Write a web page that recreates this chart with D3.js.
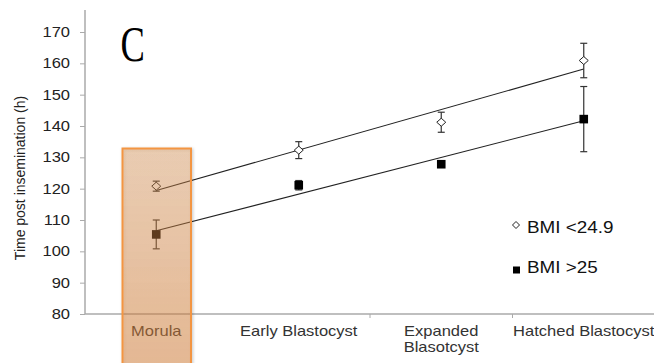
<!DOCTYPE html>
<meta charset="utf-8">
<style>
  body { margin: 0; background: #fff; }
  text { font-family: "Liberation Sans", Arial, sans-serif; }
</style>
<body>
<script src="https://cdn.jsdelivr.net/npm/d3@7/dist/d3.min.js"></script>
<script>

    var width = 654,
        height = 363;

    // stages on the x axis
    var stages = ["Morula", "Early Blastocyst", "Expanded Blasotcyst", "Hatched Blastocyst"];
    var stageLines = [["Morula"], ["Early Blastocyst"], ["Expanded", "Blasotcyst"], ["Hatched Blastocyst"]];

    // BMI <24.9 (open diamonds)
    var leanMean = [120.8, 132.3, 141.2, 160.9];
    var leanErr  = [1.6, 2.7, 3.2, 5.5];

    // BMI >25 (filled squares)
    var obeseMean = [105.4, 121.1, 127.8, 142.2];
    var obeseErr  = [4.6, 1.5, 0, 10.4];

    var yTicks = [80, 90, 100, 110, 120, 130, 140, 150, 160, 170];

    // text in the original is a bit wide, stretch it sideways
    var sx = 1.18;

    var svg = d3.select("body").append("svg")
            .attr("width", width)
            .attr("height", height);

    var x = d3.scaleBand().domain(stages).range([85, 655]);
    var y = d3.scaleLinear().domain([80, 170]).range([314, 32]);

    function cx(i) { return x(stages[i]) + x.bandwidth() / 2; }

    // y axis
    var yAxis = svg.append("g")
            .attr("transform", "translate(85,0)")
            .call(d3.axisLeft(y).tickValues(yTicks).tickSize(5).tickPadding(10));
    yAxis.select(".domain").remove();
    yAxis.selectAll(".tick line").attr("stroke", "#aaa");
    yAxis.selectAll(".tick text")
            .attr("x", -15 / sx)
            .attr("transform", "scale(" + sx + ",1)")
            .attr("font-size", 14)
            .attr("fill", "#222")
            .style("font-family", "Liberation Sans, Arial, sans-serif");
    svg.append("line")
            .attr("x1", 85).attr("x2", 85)
            .attr("y1", 10).attr("y2", y(80))
            .attr("stroke", "#aaa").attr("stroke-width", 1.5);

    // x axis
    svg.append("line")
            .attr("x1", 85).attr("x2", 654)
            .attr("y1", y(80)).attr("y2", y(80))
            .attr("stroke", "#aaa").attr("stroke-width", 1.5);
    svg.selectAll(".xtick")
            .data(stages.slice(1))
            .enter().append("line")
            .attr("x1", function(d) { return x(d) + x.bandwidth(); })
            .attr("x2", function(d) { return x(d) + x.bandwidth(); })
            .attr("y1", y(80)).attr("y2", y(80) + 4)
            .attr("stroke", "#aaa");

    var xl = svg.selectAll(".xlabel")
            .data(stageLines)
            .enter().append("text")
            .attr("transform", function(d, i) { return "translate(" + cx(i) + ",0) scale(" + sx + ",1)"; })
            .attr("text-anchor", "middle")
            .attr("font-size", 14)
            .attr("fill", "#333");
    xl.selectAll("tspan")
            .data(function(d) { return d; })
            .enter().append("tspan")
            .attr("x", 0)
            .attr("y", function(d, j) { return 336.5 + j * 16; })
            .text(function(d) { return d; });

    // y label
    svg.append("text")
            .attr("transform", "translate(25,178) rotate(-90) scale(1,1.1)")
            .attr("text-anchor", "middle")
            .attr("font-size", 14)
            .attr("fill", "#222")
            .text("Time post insemination (h)");

    // panel letter
    svg.append("text")
            .attr("transform", "translate(120.5,60.7) scale(0.73,1)")
            .style("font-family", "Liberation Serif, serif")
            .attr("font-size", 50)
            .attr("fill", "#000")
            .text("C");

    // least squares trend line across the stages
    function trend(vals) {
        var n = vals.length, xs = d3.range(1, n + 1);
        var mx = d3.mean(xs), my = d3.mean(vals);
        var b = d3.sum(xs, function(v, i) { return (v - mx) * (vals[i] - my); }) /
                d3.sum(xs, function(v) { return (v - mx) * (v - mx); });
        var a = my - b * mx;
        return [[0, a + b], [n - 1, a + b * n]];
    }

    function drawSeries(mean, err, kind) {
        var t = trend(mean);
        svg.append("line")
                .attr("x1", cx(t[0][0])).attr("y1", y(t[0][1]))
                .attr("x2", cx(t[1][0])).attr("y2", y(t[1][1]))
                .attr("stroke", "#222").attr("stroke-width", 1.1);

        var g = svg.append("g").selectAll("g")
                .data(mean)
                .enter().append("g");
        g.each(function(d, i) {
            var e = err[i], px = cx(i), s = d3.select(this);
            if (!e) return;
            s.append("line").attr("x1", px).attr("x2", px)
                    .attr("y1", y(d + e)).attr("y2", y(d - e));
            s.append("line").attr("x1", px - 3.5).attr("x2", px + 3.5)
                    .attr("y1", y(d + e)).attr("y2", y(d + e));
            s.append("line").attr("x1", px - 3.5).attr("x2", px + 3.5)
                    .attr("y1", y(d - e)).attr("y2", y(d - e));
            s.selectAll("line").attr("stroke", "#333").attr("stroke-width", 1.2);
        });
        if (kind === "diamond") {
            g.append("path")
                    .attr("d", "M0,-4L4.5,0L0,4L-4.5,0Z")
                    .attr("transform", function(d, i) { return "translate(" + cx(i) + "," + y(d) + ")"; })
                    .attr("fill", "#fff").attr("stroke", "#222").attr("stroke-width", 1);
        } else {
            g.append("rect")
                    .attr("x", function(d, i) { return cx(i) - 4.3; })
                    .attr("y", function(d) { return y(d) - 4.3; })
                    .attr("width", 8.6).attr("height", 8.6)
                    .attr("fill", "#000");
        }
    }

    drawSeries(leanMean, leanErr, "diamond");
    drawSeries(obeseMean, obeseErr, "square");

    // legend
    var leg = svg.append("g");
    leg.append("path")
            .attr("d", "M0,-3.5L3.5,0L0,3.5L-3.5,0Z")
            .attr("transform", "translate(516,225)")
            .attr("fill", "#fff").attr("stroke", "#222");
    leg.append("text")
            .attr("transform", "translate(527,233.3) scale(" + sx + ",1)")
            .attr("font-size", 16).attr("fill", "#111").text("BMI <24.9");
    leg.append("rect").attr("x", 513).attr("y", 266.5).attr("width", 7).attr("height", 7).attr("fill", "#000");
    leg.append("text")
            .attr("transform", "translate(527,273.3) scale(" + sx + ",1)")
            .attr("font-size", 16).attr("fill", "#111").text("BMI >25");

    // highlight box over the morula stage
    var defs = svg.append("defs");
    var grad = defs.append("linearGradient").attr("id", "hl")
            .attr("x1", 0).attr("y1", 0).attr("x2", 0).attr("y2", 1);
    grad.append("stop").attr("offset", "0%").attr("stop-color", "#d88e4c").attr("stop-opacity", 0.36);
    grad.append("stop").attr("offset", "100%").attr("stop-color", "#d97f36").attr("stop-opacity", 0.48);
    var shadow = defs.append("filter").attr("id", "sh")
            .attr("x", "-20%").attr("y", "-20%").attr("width", "140%").attr("height", "140%");
    shadow.append("feDropShadow")
            .attr("dx", 1).attr("dy", 1).attr("stdDeviation", 1.5)
            .attr("flood-color", "#000").attr("flood-opacity", 0.25);

    svg.append("rect")
            .attr("x", 122.5).attr("y", 148.5)
            .attr("width", 68.5).attr("height", 230)
            .attr("fill", "url(#hl)")
            .attr("stroke", "#f39543").attr("stroke-width", 2)
            .attr("filter", "url(#sh)");

</script>
